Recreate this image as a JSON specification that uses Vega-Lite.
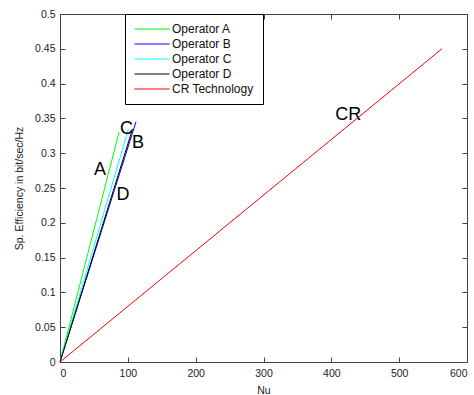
{
  "$schema": "https://vega.github.io/schema/vega-lite/v6.json",
  "width": 407,
  "height": 348,
  "autosize": {"type": "none"},
  "padding": {"left": 60, "top": 14, "right": 7, "bottom": 33},
  "background": "white",
  "config": {
    "view": {"stroke": "#444", "strokeWidth": 1},
    "font": "Liberation Sans",
    "axis": {
      "labelFont": "Liberation Sans",
      "titleFont": "Liberation Sans",
      "labelFontSize": 10.5,
      "titleFontSize": 10.5,
      "titleFontWeight": "normal",
      "labelColor": "#222",
      "titleColor": "#222",
      "grid": false,
      "domain": false,
      "tickColor": "#444",
      "tickSize": -5
    }
  },
  "datasets": {
    "lines": [
      {"series": "Operator A", "nu": 0, "eff": 0},
      {"series": "Operator A", "nu": 87, "eff": 0.33},
      {"series": "Operator B", "nu": 0, "eff": 0},
      {"series": "Operator B", "nu": 112, "eff": 0.345},
      {"series": "Operator C", "nu": 0, "eff": 0},
      {"series": "Operator C", "nu": 101, "eff": 0.335},
      {"series": "Operator D", "nu": 0, "eff": 0},
      {"series": "Operator D", "nu": 107, "eff": 0.335},
      {"series": "CR Technology", "nu": 0, "eff": 0},
      {"series": "CR Technology", "nu": 563, "eff": 0.45}
    ],
    "labels": [
      {"label": "A", "nu": 59, "eff": 0.276},
      {"label": "B", "nu": 115, "eff": 0.314},
      {"label": "C", "nu": 98, "eff": 0.335},
      {"label": "D", "nu": 93, "eff": 0.24},
      {"label": "CR", "nu": 425, "eff": 0.355}
    ]
  },
  "layer": [
    {
      "data": {"name": "lines"},
      "mark": {"type": "line", "strokeWidth": 1},
      "encoding": {
        "x": {
          "field": "nu", "type": "quantitative",
          "scale": {"domain": [0, 600], "nice": false},
          "axis": {"orient": "bottom", "values": [0, 100, 200, 300, 400, 500, 600], "title": "Nu", "labelPadding": 11, "titlePadding": 7}
        },
        "y": {
          "field": "eff", "type": "quantitative",
          "scale": {"domain": [0, 0.5], "nice": false},
          "axis": {"orient": "left", "values": [0, 0.05, 0.1, 0.15, 0.2, 0.25, 0.3, 0.35, 0.4, 0.45, 0.5], "format": "~g", "title": "Sp. Efficiency in bit/sec/Hz", "labelPadding": 10, "titlePadding": 10}
        },
        "color": {
          "field": "series", "type": "nominal",
          "scale": {
            "domain": ["Operator A", "Operator B", "Operator C", "Operator D", "CR Technology"],
            "range": ["#00ff00", "#0000ff", "#00ffff", "#000000", "#ff0000"]
          },
          "legend": {
            "orient": "none", "legendX": 65, "legendY": 0,
            "title": null, "direction": "vertical",
            "strokeColor": "#000", "fillColor": "white",
            "padding": 9,
            "symbolType": "stroke", "symbolSize": 1225, "symbolStrokeWidth": 1,
            "clipHeight": 12,
            "labelFont": "Liberation Sans", "labelFontSize": 12, "labelColor": "#111",
            "labelOffset": 2, "rowPadding": 3
          }
        }
      }
    },
    {
      "data": {"name": "labels"},
      "mark": {"type": "text", "fontSize": 18, "font": "Liberation Sans", "color": "black"},
      "encoding": {
        "x": {"field": "nu", "type": "quantitative", "axis": {"orient": "top", "values": [0, 100, 200, 300, 400, 500, 600], "labels": false, "title": null}},
        "y": {"field": "eff", "type": "quantitative", "axis": {"orient": "right", "values": [0, 0.05, 0.1, 0.15, 0.2, 0.25, 0.3, 0.35, 0.4, 0.45, 0.5], "labels": false, "title": null}},
        "text": {"field": "label"}
      }
    }
  ],
  "resolve": {"axis": {"x": "independent", "y": "independent"}}
}
